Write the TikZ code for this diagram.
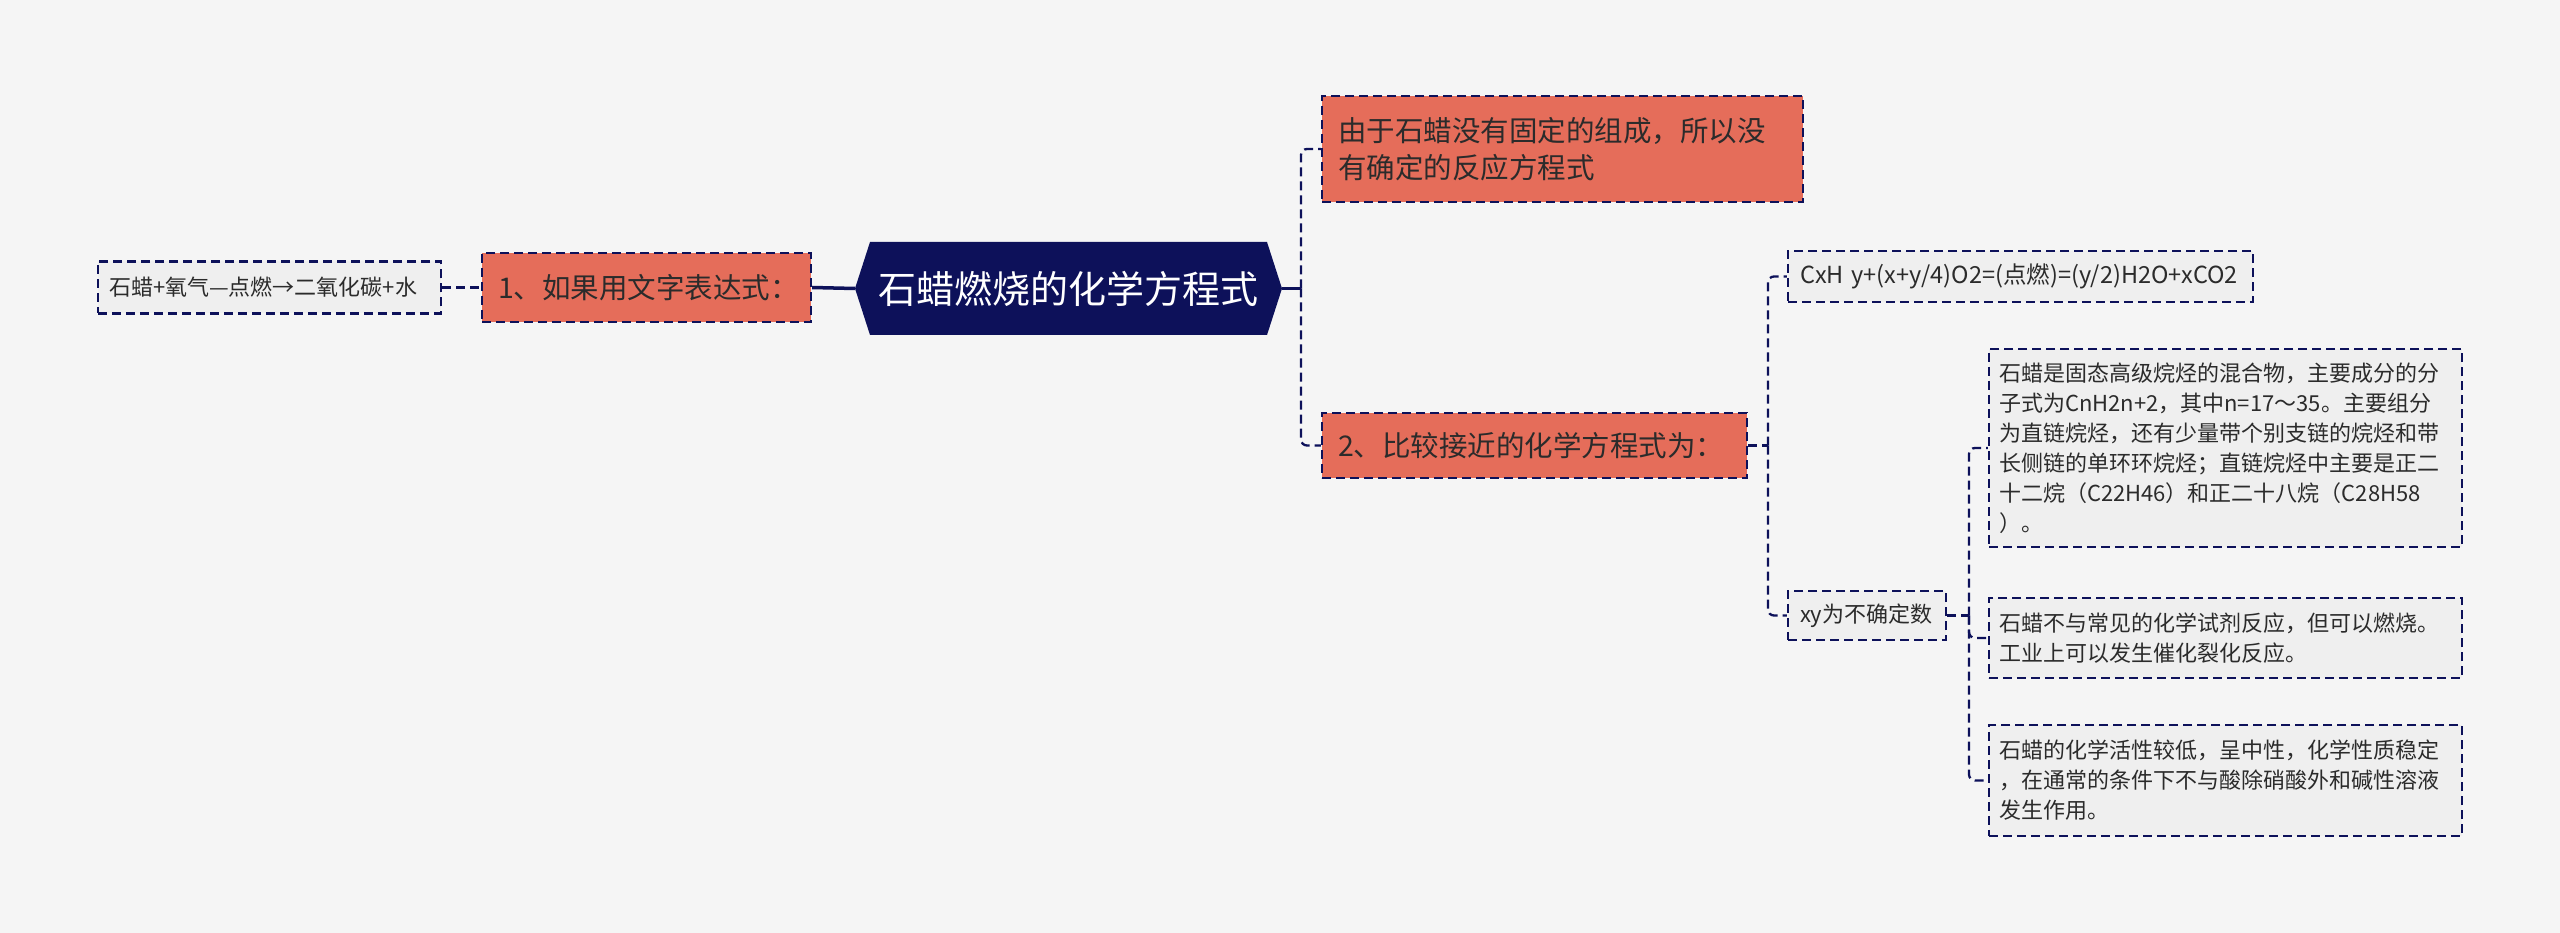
\documentclass[tikz,border=0pt]{standalone}
\usepackage{fontspec}
\newfontfamily\cjk{Noto Sans CJK SC}
\definecolor{bg}{HTML}{F5F5F5}
\definecolor{navy}{HTML}{0D115A}
\definecolor{salmon}{HTML}{E56D5A}
\definecolor{leaffill}{HTML}{EFEFEF}
\definecolor{txt}{HTML}{2B2B2B}
\begin{document}
\begin{tikzpicture}[x=1pt,y=-1pt,
  base/.style={rectangle, text=txt, inner ysep=0pt, align=left, line width=2.3pt, draw=navy, dash pattern=on 9pt off 5pt},
  mainbox/.style={base, fill=salmon},
  leafbox/.style={base, fill=leaffill},
  fbig/.style={font=\cjk\fontsize{28.5pt}{37pt}\selectfont},
  fsmall/.style={font=\cjk\fontsize{22pt}{30pt}\selectfont},
  conn/.style={draw=navy, line width=2.3pt, dash pattern=on 9pt off 5pt},
  solidc/.style={draw=navy, line width=3.5pt},
]
\useasboundingbox (0,0) rectangle (2560,933);
\fill[bg] (0,0) rectangle (2560,933);

% central node
\fill[navy] (855,288.5) -- (870,242) -- (1267,242) -- (1282,288.5) -- (1267,335) -- (870,335) -- cycle;
\node[font=\cjk\fontsize{38pt}{46pt}\selectfont, text=white, minimum width=427pt, minimum height=93pt, inner sep=0pt] (c) at (1068.5,288.5) {石蜡燃烧的化学方程式};

% left side
\node[mainbox, fbig, minimum width=329pt, minimum height=69pt, text width=297pt, inner xsep=16pt] (n1) at (646.5,287.5) {1、如果用文字表达式：};
\node[leafbox, fsmall, minimum width=343pt, minimum height=52pt, text width=321pt, inner xsep=11pt] (l0) at (269.5,287.5) {石蜡+氧气—点燃→二氧化碳+水};

% right main
\node[mainbox, fbig, minimum width=481pt, minimum height=106pt, text width=449pt, inner xsep=16pt] (top) at (1562.5,149) {由于石蜡没有固定的组成，所以没\\有确定的反应方程式};
\node[mainbox, fbig, minimum width=425pt, minimum height=65pt, text width=393pt, inner xsep=16pt] (n2) at (1534.5,445.5) {2、比较接近的化学方程式为：};

% second level
\node[leafbox, font=\cjk\fontsize{23.5pt}{30pt}\selectfont, minimum width=465pt, minimum height=51pt, text width=441pt, inner xsep=12pt] (eq) at (2020.5,276.5) {CxH y+(x+y/4)O2=(点燃)=(y/2)H2O+xCO2};
\node[leafbox, fsmall, minimum width=158pt, minimum height=49pt, text width=134pt, inner xsep=12pt] (xy) at (1867,615.5) {xy为不确定数};

% third level
\node[leafbox, fsmall, minimum width=473pt, minimum height=198pt, text width=453pt, inner xsep=10pt] (A) at (2225.5,448) {石蜡是固态高级烷烃的混合物，主要成分的分\\子式为CnH2n+2，其中n=17～35。主要组分\\为直链烷烃，还有少量带个别支链的烷烃和带\\长侧链的单环环烷烃；直链烷烃中主要是正二\\十二烷（C22H46）和正二十八烷（C28H58\\）。};
\node[leafbox, fsmall, minimum width=473pt, minimum height=80pt, text width=453pt, inner xsep=10pt] (B) at (2225.5,638) {石蜡不与常见的化学试剂反应，但可以燃烧。\\工业上可以发生催化裂化反应。};
\node[leafbox, fsmall, minimum width=473pt, minimum height=111pt, text width=453pt, inner xsep=10pt] (C) at (2225.5,780.5) {石蜡的化学活性较低，呈中性，化学性质稳定\\，在通常的条件下不与酸除硝酸外和碱性溶液\\发生作用。};

% connectors
\draw[conn] (l0.east) -- (n1.west);
\draw[solidc] (n1.east) -- (c.west);

\coordinate (j1) at (1301,288.5);
\draw[solidc] (c.east) -- (j1);
\draw[conn, rounded corners=6pt] (j1) |- (top.west);
\draw[conn, rounded corners=6pt] (j1) |- (n2.west);

\coordinate (j2) at (1768,445.5);
\draw[conn] (n2.east) -- (j2);
\draw[conn, rounded corners=6pt] (j2) |- (eq.west);
\draw[conn, rounded corners=6pt] (j2) |- (xy.west);

\coordinate (j3) at (1969,615.5);
\draw[conn] (xy.east) -- (j3);
\draw[conn, rounded corners=6pt] (j3) |- (A.west);
\draw[conn, rounded corners=6pt] (j3) |- (B.west);
\draw[conn, rounded corners=6pt] (j3) |- (C.west);
\end{tikzpicture}
\end{document}
